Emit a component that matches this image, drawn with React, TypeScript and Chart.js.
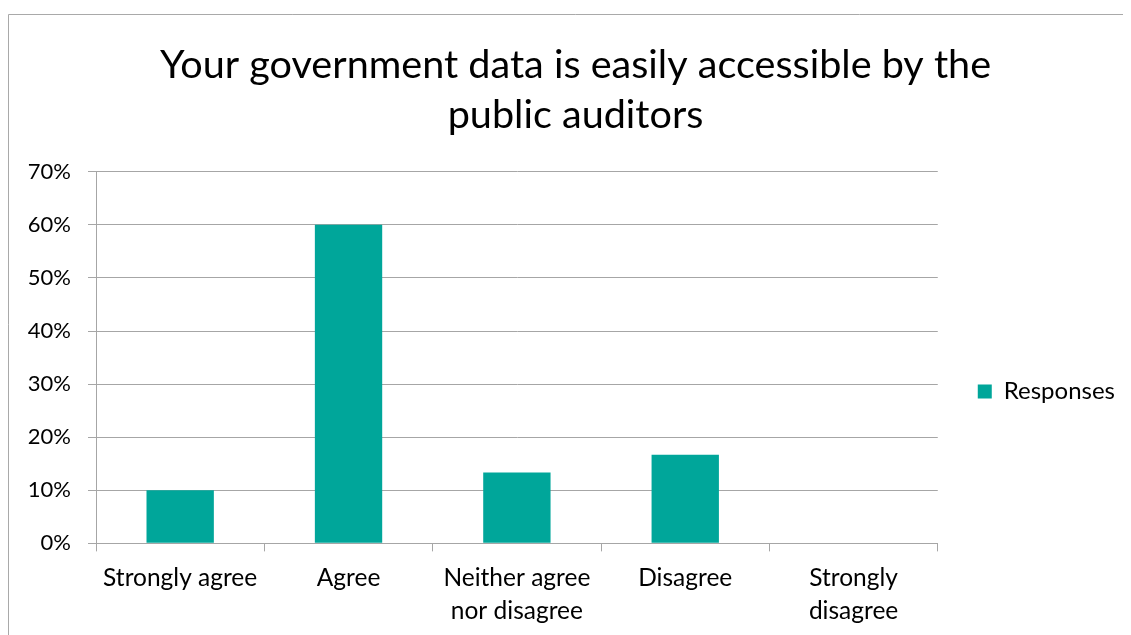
import React, { useEffect, useRef } from "react";
import { Chart, registerables } from "chart.js";

Chart.register(...registerables);

const titleLines = ["Your government data is easily accessible by the", "public auditors"];
const categories: (string | string[])[] = [
  "Strongly agree",
  "Agree",
  ["Neither agree", "nor disagree"],
  "Disagree",
  ["Strongly", "disagree"],
];
const responses = [10, 60, 13.33, 16.67, 0];
const seriesName = "Responses";
const yMin = 0;
const yMax = 70;
const yStep = 10;

const FONT = "Lato, 'Liberation Sans', sans-serif";
const GRID = "#a6a6a6";
const BAR = "#00a69a";

const borderPlugin = {
  id: "outerBorder",
  beforeDraw(chart: any) {
    const ctx = chart.ctx;
    ctx.save();
    ctx.fillStyle = "#ffffff";
    ctx.fillRect(0, 0, chart.width, chart.height);
    ctx.strokeStyle = "#a9a9a9";
    ctx.lineWidth = 1;
    ctx.beginPath();
    ctx.moveTo(0.5, chart.height);
    ctx.lineTo(0.5, 6.5);
    ctx.lineTo(chart.width, 6.5);
    ctx.stroke();
    ctx.restore();
  },
};

export default function App() {
  const ref = useRef<HTMLCanvasElement>(null);
  useEffect(() => {
    if (!ref.current) return;
    const chart = new Chart(ref.current, {
      type: "bar",
      data: {
        labels: categories,
        datasets: [
          {
            label: seriesName,
            data: responses,
            backgroundColor: BAR,
            borderWidth: 0,
            barPercentage: 0.4,
            categoryPercentage: 1,
          },
        ],
      },
      plugins: [borderPlugin],
      options: {
        responsive: false,
        animation: false,
        devicePixelRatio: 1,
        layout: { padding: { left: 18, right: 18, top: 32, bottom: -3 } },
        plugins: {
          tooltip: { enabled: false },
          title: {
            display: true,
            text: titleLines,
            color: "#000000",
            font: { family: FONT, size: 39.6, weight: "normal", lineHeight: 1.26 },
            padding: { top: 0, bottom: 32 },
          },
          legend: {
            display: true,
            position: "right",
            title: {
              display: true,
              text: " ",
              font: { size: 1, lineHeight: 1 },
              padding: { top: 104, bottom: 0 },
            },
            labels: {
              boxWidth: 14,
              boxHeight: 14,
              padding: 40,
              color: "#000000",
              font: { family: FONT, size: 24 },
            },
          },
        },
        scales: {
          x: {
            offset: true,
            grid: {
              offset: true,
              drawOnChartArea: false,
              drawTicks: true,
              tickLength: 8,
              color: GRID,
            },
            border: { display: true, color: GRID },
            ticks: {
              color: "#000000",
              font: { family: FONT, size: 24.5, lineHeight: 1.36 },
              maxRotation: 0,
              autoSkip: false,
              padding: 10,
            },
          },
          y: {
            min: yMin,
            max: yMax,
            afterFit: (scale: any) => {
              scale.width = 70;
            },
            grid: { color: GRID, tickLength: 8, drawTicks: true },
            border: { display: true, color: GRID },
            ticks: {
              stepSize: yStep,
              color: "#000000",
              font: { family: FONT, size: 22 },
              padding: 17,
              callback: (v: any) => v + "%",
            },
          },
        },
      },
    });
    return () => chart.destroy();
  }, []);
  return (
    <div style={{ width: "1123px", height: "627px", overflow: "hidden" }}>
      <canvas
        ref={ref}
        width={1135}
        height={627}
        style={{ display: "block", width: "1135px", height: "627px" }}
      />
    </div>
  );
}
